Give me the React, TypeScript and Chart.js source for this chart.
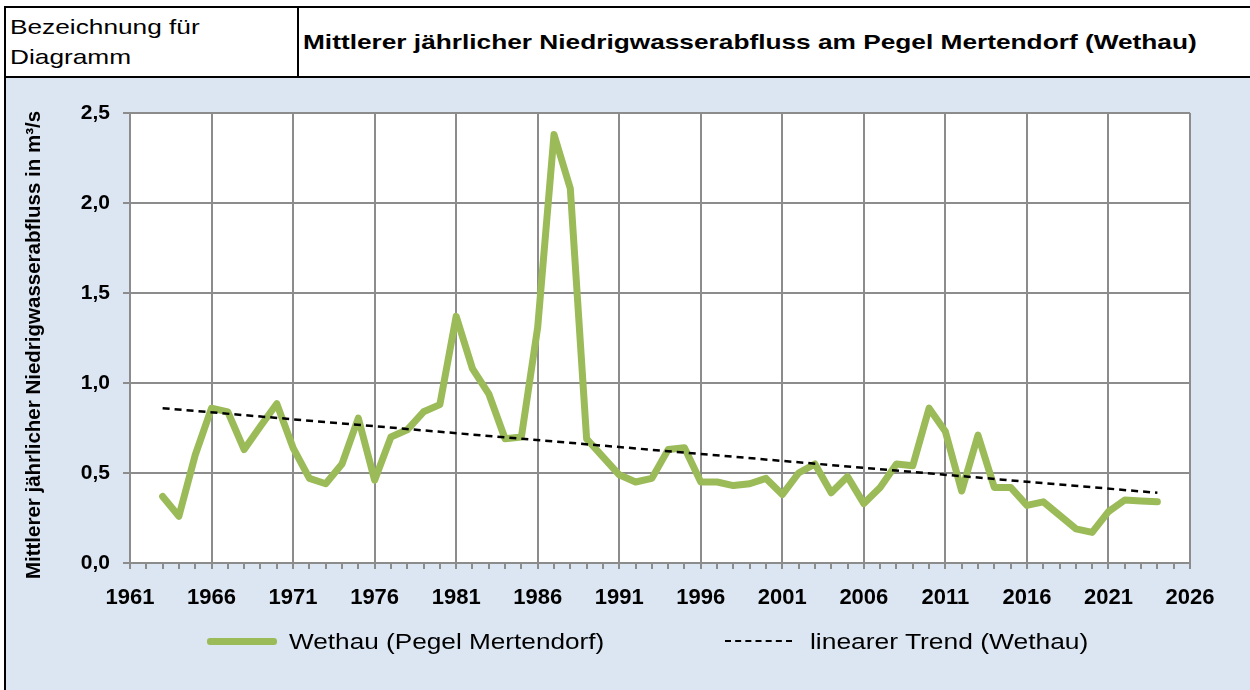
import React, { useEffect, useRef } from "react";
import { Chart, registerables } from "chart.js";

Chart.register(...registerables);

const headerLabel = ["Bezeichnung für", "Diagramm"];
const chartTitle = "Mittlerer jährlicher Niedrigwasserabfluss am Pegel Mertendorf (Wethau)";
const yAxisTitle = "Mittlerer jährlicher Niedrigwasserabfluss in m³/s";
const seriesName = "Wethau (Pegel Mertendorf)";
const trendName = "linearer Trend (Wethau)";

const years = [
  1963, 1964, 1965, 1966, 1967, 1968, 1969, 1970, 1971, 1972,
  1973, 1974, 1975, 1976, 1977, 1978, 1979, 1980, 1981, 1982,
  1983, 1984, 1985, 1986, 1987, 1988, 1989, 1990, 1991, 1992,
  1993, 1994, 1995, 1996, 1997, 1998, 1999, 2000, 2001, 2002,
  2003, 2004, 2005, 2006, 2007, 2008, 2009, 2010, 2011, 2012,
  2013, 2014, 2015, 2016, 2017, 2018, 2019, 2020, 2021, 2022,
  2023, 2024,
];

const flows = [
  0.37, 0.26, 0.6, 0.86, 0.84, 0.63, 0.76, 0.885, 0.64, 0.47,
  0.44, 0.55, 0.805, 0.46, 0.7, 0.74, 0.84, 0.88, 1.37, 1.08,
  0.94, 0.69, 0.7, 1.31, 2.38, 2.08, 0.69, 0.59, 0.49, 0.45,
  0.47, 0.63, 0.64, 0.45, 0.45, 0.43, 0.44, 0.47, 0.38, 0.5,
  0.55, 0.39, 0.48, 0.33, 0.42, 0.55, 0.54, 0.86, 0.73, 0.4,
  0.71, 0.42, 0.42, 0.32, 0.34, 0.265, 0.19, 0.17, 0.285, 0.35,
  0.345, 0.34,
];

const trendYears = [1963, 2024];
const trendValues = [0.86, 0.39];

const xMin = 1961;
const xMax = 2026;
const yMin = 0;
const yMax = 2.5;
const yStep = 0.5;

const GRID = "#8c8c8c";
const FONT = '"Liberation Sans", Arial, Helvetica, sans-serif';

const stretch = (sx: number): React.CSSProperties => ({
  transform: `scaleX(${sx})`,
  transformOrigin: "0 50%",
  whiteSpace: "nowrap",
});

export default function App() {
  const canvasRef = useRef<HTMLCanvasElement | null>(null);

  useEffect(() => {
    const canvas = canvasRef.current;
    if (!canvas) return;
    Chart.defaults.font.family = FONT;
    const chart = new Chart(canvas, {
      type: "line",
      data: {
        datasets: [
          {
            label: seriesName,
            data: years.map((y, i) => ({ x: y, y: flows[i] })),
            borderColor: "#9BBB59",
            backgroundColor: "#9BBB59",
            borderWidth: 7,
            pointRadius: 0,
            tension: 0,
            borderJoinStyle: "round",
            borderCapStyle: "round",
            order: 2,
          },
          {
            label: trendName,
            data: trendYears.map((y, i) => ({ x: y, y: trendValues[i] })),
            borderColor: "#000000",
            borderWidth: 2.5,
            borderDash: [7, 5],
            pointRadius: 0,
            order: 1,
          },
        ],
      },
      options: {
        animation: false,
        responsive: false,
        maintainAspectRatio: false,
        layout: { padding: { left: 0, top: 35, right: 60, bottom: 0 } },
        plugins: {
          legend: { display: false },
          tooltip: { enabled: false },
        },
        scales: {
          x: {
            type: "linear",
            min: xMin,
            max: xMax,
            afterFit: (s: any) => {
              s.height = 127;
            },
            ticks: {
              stepSize: 1,
              autoSkip: false,
              maxRotation: 0,
              minRotation: 0,
              padding: 16,
              color: "#000",
              font: { size: 22, weight: "bold" },
              callback: (v: any) => ((Number(v) - xMin) % 5 === 0 ? String(v) : ""),
            },
            grid: {
              color: (ctx: any) =>
                ctx.tick && (ctx.tick.value - xMin) % 5 === 0 ? GRID : "rgba(0,0,0,0)",
              tickColor: GRID,
              lineWidth: 2,
              tickLength: 6,
              drawOnChartArea: true,
            },
            border: { color: GRID, width: 2 },
          },
          y: {
            min: yMin,
            max: yMax,
            afterFit: (s: any) => {
              s.width = 124;
            },
            ticks: {
              stepSize: yStep,
              padding: 13,
              color: "#000",
              font: { size: 21, weight: "bold" },
              callback: (v: any) => Number(v).toFixed(1).replace(".", ","),
            },
            grid: {
              color: GRID,
              tickColor: GRID,
              lineWidth: 2,
              tickLength: 7,
            },
            border: { color: GRID, width: 2 },
          },
        },
      },
      plugins: [
        {
          id: "plotBg",
          beforeDraw: (c: any) => {
            const { ctx, chartArea } = c;
            ctx.save();
            ctx.fillStyle = "#ffffff";
            ctx.fillRect(
              chartArea.left,
              chartArea.top,
              chartArea.right - chartArea.left,
              chartArea.bottom - chartArea.top
            );
            ctx.restore();
          },
        },
        {
          id: "yTitle",
          afterDraw: (c: any) => {
            const { ctx } = c;
            ctx.save();
            ctx.translate(28, 267);
            ctx.rotate(-Math.PI / 2);
            ctx.font = `bold 20.5px ${FONT}`;
            ctx.fillStyle = "#000";
            ctx.textAlign = "center";
            ctx.textBaseline = "middle";
            ctx.fillText(yAxisTitle, 0, 0);
            ctx.restore();
          },
        },
      ],
    } as any);
    return () => chart.destroy();
  }, []);

  return (
    <div
      style={{
        position: "fixed",
        left: 0,
        top: 0,
        width: 1250,
        height: 690,
        overflow: "hidden",
        background: "#ffffff",
        fontFamily: FONT,
      }}
    >
      <div
        style={{
          position: "absolute",
          left: 4,
          top: 6,
          width: 1300,
          height: 720,
          borderLeft: "2px solid #000",
          borderTop: "2px solid #000",
        }}
      >
        <div
          style={{
            position: "absolute",
            left: 0,
            top: 0,
            width: 1300,
            height: 68,
            borderBottom: "2px solid #000",
          }}
        >
          <div
            style={{
              position: "absolute",
              left: 0,
              top: 0,
              width: 291,
              height: 68,
              borderRight: "2px solid #000",
            }}
          >
            <div
              style={{
                position: "absolute",
                left: 4,
                top: 4,
                fontSize: 21,
                lineHeight: "30px",
                color: "#000",
              }}
            >
              {headerLabel.map((t) => (
                <div key={t} style={stretch(1.25)}>
                  {t}
                </div>
              ))}
            </div>
          </div>
          <div
            style={{
              position: "absolute",
              left: 297,
              top: 0,
              height: 68,
              display: "flex",
              alignItems: "center",
              fontSize: 21,
              fontWeight: "bold",
              color: "#000",
            }}
          >
            <div style={stretch(1.25)}>{chartTitle}</div>
          </div>
        </div>
        <div
          style={{
            position: "absolute",
            left: 0,
            top: 70,
            width: 1300,
            height: 700,
            background: "#DCE6F2",
          }}
        >
          <canvas
            ref={canvasRef}
            width={1244}
            height={612}
            style={{ position: "absolute", left: 0, top: 0, width: 1244, height: 612 }}
          />
          {/* legend */}
          <div
            style={{
              position: "absolute",
              left: 201,
              top: 560,
              width: 70,
              height: 7,
              background: "#9BBB59",
              borderRadius: 3,
            }}
          />
          <div
            style={{
              position: "absolute",
              left: 283,
              top: 550,
              fontSize: 22,
              lineHeight: "28px",
              color: "#000",
              ...stretch(1.19),
            }}
          >
            {seriesName}
          </div>
          <div
            style={{
              position: "absolute",
              left: 719,
              top: 562,
              width: 67,
              height: 0,
              borderTop: "2px dashed #000",
            }}
          />
          <div
            style={{
              position: "absolute",
              left: 804,
              top: 550,
              fontSize: 22,
              lineHeight: "28px",
              color: "#000",
              ...stretch(1.2),
            }}
          >
            {trendName}
          </div>
        </div>
      </div>
    </div>
  );
}
